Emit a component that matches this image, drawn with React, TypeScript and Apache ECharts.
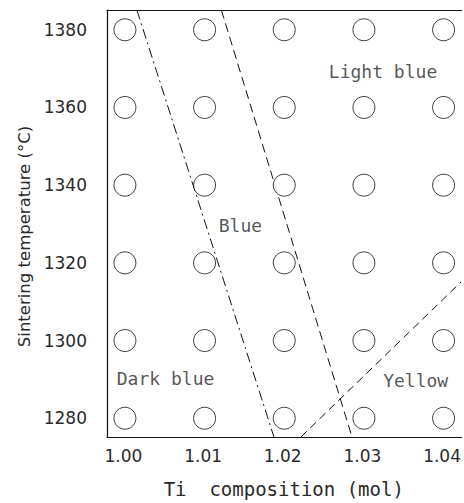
import React, { useEffect, useRef } from "react";
import * as echarts from "echarts";

// Ti composition (mol) and sintering temperature (°C) of the tested samples
const compositions = [1.0, 1.01, 1.02, 1.03, 1.04];
const temperatures = [1280, 1300, 1320, 1340, 1360, 1380];

// Colour-region boundaries, [composition, temperature]
const darkBlueBoundary = [
  [1.0015, 1385.1],
  [1.0187, 1275.2],
];
const blueBoundary = [
  [1.0121, 1385.1],
  [1.0285, 1275.2],
];
const yellowBoundary = [
  [1.0221, 1275.2],
  [1.0422, 1315.1],
];

// Region names placed inside the diagram
const regionNames = ["Light blue", "Blue", "Dark blue", "Yellow"];
const regionPositions = [
  [1.0324, 1369.3],
  [1.0145, 1329.6],
  [1.0051, 1290.2],
  [1.0365, 1289.7],
];

const MONO = "DejaVu Sans Mono";
const SANS = "DejaVu Sans";
const INK = "#2a2a2a";

export default function App() {
  const ref = useRef<HTMLDivElement>(null);

  useEffect(() => {
    if (!ref.current) return;
    const chart = echarts.init(ref.current, null, { renderer: "svg" });

    const samples: number[][] = [];
    for (const t of temperatures) for (const c of compositions) samples.push([c, t]);

    const boundary = (data: number[][], dash: number[]) => ({
      type: "line",
      data,
      symbol: "none",
      silent: true,
      lineStyle: { color: "#111", width: 1, type: dash },
      z: 1,
    });

    chart.setOption({
      animation: false,
      backgroundColor: "#fff",
      grid: { left: 107, top: 10, width: 356, height: 432, containLabel: false },
      xAxis: [
        {
          type: "value",
          min: 0.99775,
          max: 1.04225,
          position: "bottom",
          name: "Ti  composition (mol)",
          nameLocation: "middle",
          nameGap: 42,
          nameTextStyle: { fontFamily: MONO, fontSize: 19, color: INK, padding: [0, 1, 0, 0] },
          axisLine: { show: true, lineStyle: { color: "#111", width: 1.2 } },
          axisTick: { show: false },
          splitLine: { show: false },
          axisLabel: {
            show: true,
            margin: 10,
            fontFamily: SANS,
            fontSize: 17,
            color: INK,
            padding: [0, 3, 0, 0],
            customValues: compositions,
            formatter: (v: number) => v.toFixed(2),
          },
        },
        {
          type: "value",
          min: 0.99775,
          max: 1.04225,
          position: "top",
          axisLine: { show: true, lineStyle: { color: "#111", width: 1.2 } },
          axisTick: { show: false },
          splitLine: { show: false },
          axisLabel: { show: false },
        },
      ],
      yAxis: {
        type: "value",
        min: 1275.17,
        max: 1385.09,
        name: "Sintering temperature (°C)",
        nameLocation: "middle",
        nameGap: 69,
        nameTextStyle: { fontFamily: SANS, fontSize: 16.5, color: INK, padding: [0, 26, 0, 0] },
        axisLine: { show: true, lineStyle: { color: "#111", width: 1.2 } },
        axisTick: { show: false },
        splitLine: { show: false },
        axisLabel: {
          show: true,
          margin: 20,
          fontFamily: SANS,
          fontSize: 17,
          color: INK,
          customValues: temperatures,
          formatter: (v: number) => String(v),
        },
      },
      series: [
        boundary(darkBlueBoundary, [10, 4, 2, 4]),
        boundary(blueBoundary, [9, 5]),
        boundary(yellowBoundary, [8, 5]),
        {
          type: "scatter",
          data: samples,
          symbol: "circle",
          symbolSize: 22,
          silent: true,
          itemStyle: { color: "#fff", borderColor: "#111", borderWidth: 1 },
          z: 3,
        },
        {
          type: "scatter",
          data: regionPositions.map((p, i) => ({ value: p, name: regionNames[i] })),
          symbolSize: 0,
          silent: true,
          label: {
            show: true,
            position: "inside",
            formatter: (p: any) => p.name,
            fontFamily: MONO,
            fontSize: 18,
            color: INK,
          },
          z: 4,
        },
      ],
    });

    return () => chart.dispose();
  }, []);

  return (
    <div
      ref={ref}
      style={{ position: "fixed", left: 0, top: 0, width: 464, height: 503, background: "#fff" }}
    />
  );
}
